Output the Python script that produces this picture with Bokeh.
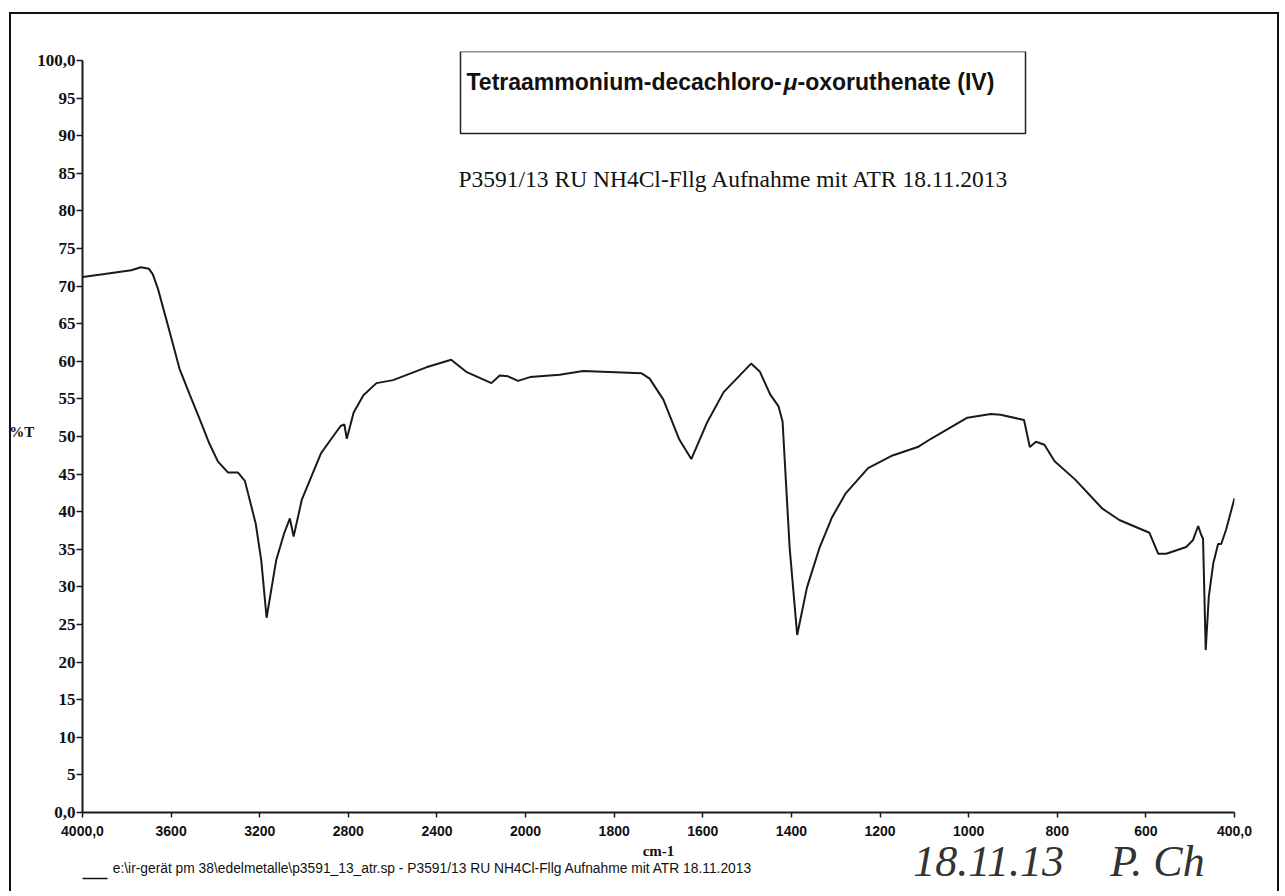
import numpy as np
from bokeh.plotting import figure
from bokeh.models import (Range1d, FixedTicker, Label, BoxAnnotation, LinearAxis,
                          ColumnDataSource)
from bokeh.embed import file_html
from bokeh.resources import INLINE

# ---------------- data ----------------
wavenumber = [4000, 3900, 3780, 3736, 3700, 3683, 3659, 3610, 3562, 3515, 3467,
              3428, 3389, 3343, 3298, 3267, 3218, 3193, 3169, 3126, 3090, 3064,
              3047, 3010, 2923, 2879, 2835, 2818, 2807, 2776, 2732, 2673, 2598,
              2448, 2336, 2268, 2207, 2154, 2117, 2079, 2034, 1990, 1923, 1870,
              1738, 1720, 1689, 1653, 1626, 1590, 1553, 1491, 1471, 1448, 1429,
              1420, 1404, 1387, 1365, 1336, 1308, 1278, 1227, 1175, 1115, 1085,
              1003, 950, 928, 875, 862, 848, 829, 806, 760, 698, 660, 600, 592,
              572, 554, 509, 494, 482, 475, 471, 465, 458, 448, 437, 430, 419, 400]
transmittance = [71.2, 71.6, 72.1, 72.5, 72.3, 71.6, 69.6, 64.3, 59.0, 55.5, 52.0,
                 49.1, 46.7, 45.2, 45.2, 44.1, 38.4, 33.5, 25.9, 33.5, 37.1, 39.1,
                 36.7, 41.6, 47.8, 49.6, 51.4, 51.6, 49.7, 53.2, 55.5, 57.1, 57.5,
                 59.2, 60.2, 58.6, 57.8, 57.1, 58.1, 58.0, 57.4, 57.9, 58.2, 58.7,
                 58.4, 57.7, 54.9, 49.6, 47.0, 51.9, 55.9, 59.7, 58.6, 55.6, 54.0,
                 52.0, 35.2, 23.6, 29.9, 35.3, 39.3, 42.4, 45.8, 47.4, 48.6, 49.7,
                 52.5, 53.0, 52.9, 52.2, 48.6, 49.3, 48.9, 46.7, 44.3, 40.4, 38.9,
                 37.4, 37.2, 34.4, 34.4, 35.3, 36.2, 38.1, 36.9, 36.4, 21.6, 28.7,
                 33.1, 35.7, 35.7, 37.6, 41.8]

x_tick_wavenumbers = [4000, 3600, 3200, 2800, 2400, 2000, 1800, 1600, 1400,
                      1200, 1000, 800, 600, 400]
x_tick_labels = ["4000,0", "3600", "3200", "2800", "2400", "2000", "1800", "1600",
                 "1400", "1200", "1000", "800", "600", "400,0"]
y_tick_values = list(range(0, 101, 5))
y_tick_labels = ["0,0", "5", "10", "15", "20", "25", "30", "35", "40", "45", "50",
                 "55", "60", "65", "70", "75", "80", "85", "90", "95", "100,0"]

title_parts = ["Tetraammonium-decachloro-", "\u03bc", "-oxoruthenate (IV)"]
subtitle = "P3591/13 RU NH4Cl-Fllg Aufnahme mit ATR  18.11.2013"
footer = ("e:\\ir-ger\u00e4t  pm 38\\edelmetalle\\p3591_13_atr.sp - "
          "P3591/13 RU NH4Cl-Fllg Aufnahme mit ATR  18.11.2013")
handwritten = ["18.11.13", "P. Ch"]
x_axis_label = "cm-1"
y_axis_label = "%T"


# The instrument's abscissa changes scale at 2000 cm-1 (2x expansion below).
def axis_pos(w):
    w = np.asarray(w, dtype=float)
    return np.where(w >= 2000, (4000.0 - w) / 2.0, 1000.0 + (2000.0 - w))


src = ColumnDataSource(dict(wn=wavenumber, u=axis_pos(wavenumber), T=transmittance))

p = figure(width=1283, height=891, x_range=Range1d(0, 2600), y_range=Range1d(0, 101.2),
           output_backend="svg", toolbar_location=None,
           min_border_left=82, min_border_right=49, min_border_top=51,
           min_border_bottom=79)
p.outline_line_color = None
p.xgrid.visible = False
p.ygrid.visible = False
p.background_fill_alpha = 0
p.border_fill_alpha = 0
# thin black frame of the scanned page (left, top, right edges)
p.styles = {
    "background-color": "white",
    "background-image": ("linear-gradient(#111111, #111111), "
                         "linear-gradient(#111111, #111111), "
                         "linear-gradient(#111111, #111111)"),
    "background-position": "9px 12px, 9px 12px, 1277px 12px",
    "background-size": "2px 100%, 1270px 2px, 2px 100%",
    "background-repeat": "no-repeat",
}

line = p.line("u", "T", source=src, line_color="#1a1a1a", line_width=2)

# ---- main x axis
xa = p.xaxis[0]
xt = [int(round(v)) for v in axis_pos(x_tick_wavenumbers)]
xa.ticker = FixedTicker(ticks=xt)
xa.major_label_overrides = {k: lab for k, lab in zip(xt, x_tick_labels)}
xa.axis_label = x_axis_label
ya = p.yaxis[0]
for ax in (xa, ya):
    ax.axis_line_width = 2
    ax.axis_line_color = "#1a1a1a"
    ax.major_tick_line_color = "#1a1a1a"
    ax.major_tick_line_width = 1.5
    ax.major_tick_in = 0
    ax.minor_tick_line_color = None
    ax.major_label_text_color = "#111111"
    ax.axis_label_text_color = "#111111"
xa.major_tick_out = 5
xa.major_label_standoff = 8
xa.major_label_text_font = "Liberation Sans"
xa.major_label_text_font_style = "bold"
xa.major_label_text_font_size = "14px"
xa.axis_label_text_font = "Liberation Serif"
xa.axis_label_text_font_style = "bold"
xa.axis_label_text_font_size = "15px"
xa.axis_label_standoff = 4

# ---- y axis (labels sit just above their tick, as on the printout)
ya.ticker = FixedTicker(ticks=y_tick_values)
ya.major_label_overrides = {k: lab for k, lab in zip(y_tick_values, y_tick_labels)}
ya.bounds = (0, 100)
ya.axis_label = y_axis_label
ya.axis_label_orientation = "horizontal"
ya.major_tick_out = 6
ya.major_label_standoff = 1
ya.major_label_text_font = "Liberation Serif"
ya.major_label_text_font_style = "bold"
ya.major_label_text_font_size = "17px"
ya.major_label_text_baseline = "alphabetic"
ya.axis_label_text_font = "Liberation Serif"
ya.axis_label_text_font_style = "bold"
ya.axis_label_text_font_size = "15px"
ya.axis_label_standoff = 0

# ---- printed file footer (row below the x axis)
footer_pos = 799
ax_footer = LinearAxis(ticker=FixedTicker(ticks=[footer_pos]),
                       major_label_overrides={footer_pos: footer},
                       axis_line_color=None, major_tick_line_color=None,
                       minor_tick_line_color=None, major_tick_in=0, major_tick_out=0,
                       major_label_standoff=-1, major_label_text_font="Liberation Sans",
                       major_label_text_font_size="13.8px",
                       major_label_text_color="#111111")
p.add_layout(ax_footer, "below")

# ---- legend line sample in front of the footer
ax_sample = LinearAxis(ticker=FixedTicker(ticks=[]), bounds=(-16, 56),
                       axis_line_color="#111111", axis_line_width=1.5,
                       major_tick_line_color=None, minor_tick_line_color=None,
                       major_tick_in=0, major_tick_out=0, major_label_standoff=0,
                       major_label_text_font_size="0px")
p.add_layout(ax_sample, "below")

# ---- handwritten date and signature
hw_pos = [2045, 2426]
ax_hand = LinearAxis(ticker=FixedTicker(ticks=hw_pos),
                     major_label_overrides={k: t for k, t in zip(hw_pos, handwritten)},
                     axis_line_color=None, major_tick_line_color=None,
                     minor_tick_line_color=None, major_tick_in=0, major_tick_out=0,
                     major_label_standoff=-42, major_label_text_font="Liberation Serif",
                     major_label_text_font_style="italic",
                     major_label_text_font_size="44px",
                     major_label_text_color="#333333")
p.add_layout(ax_hand, "below")

# ---- title box and texts inside the plot area
p.add_layout(BoxAnnotation(left=853.1, right=2128.3, bottom=90.3, top=101.2,
                           fill_color=None, fill_alpha=0, line_color="#222222",
                           line_alpha=1.0, line_width=1.5))

title_offsets = [0, 317, 331]
title_styles = ["bold", "bold italic", "bold"]
for part, off, sty in zip(title_parts, title_offsets, title_styles):
    p.add_layout(Label(x=866.7, y=97.1, x_offset=off, text=part,
                       text_font="Liberation Sans", text_font_style=sty,
                       text_font_size="23px", text_baseline="alphabetic",
                       text_color="#111111"))

p.add_layout(Label(x=848.6, y=84.3, text=subtitle, text_font="Liberation Serif",
                   text_font_size="23.5px", text_baseline="alphabetic",
                   text_color="#111111"))

open("out.html", "w").write(file_html(p, INLINE))
